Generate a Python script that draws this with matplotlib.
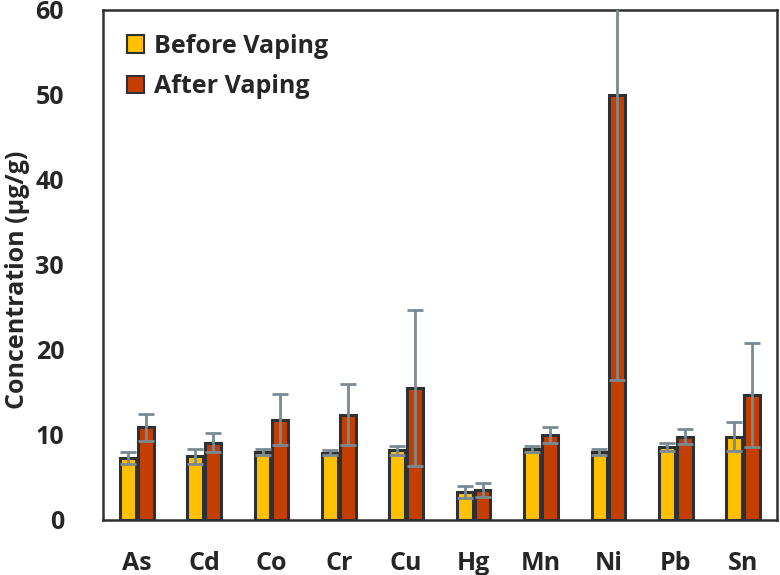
import matplotlib
matplotlib.use("Agg")
import matplotlib.pyplot as plt
import numpy as np
from matplotlib.patches import Patch

categories = ["As", "Cd", "Co", "Cr", "Cu", "Hg", "Mn", "Ni", "Pb", "Sn"]
before = [7.3, 7.5, 8.0, 7.9, 8.2, 3.3, 8.35, 8.0, 8.6, 9.8]
before_err = [0.7, 0.9, 0.3, 0.3, 0.5, 0.7, 0.3, 0.4, 0.45, 1.7]
after = [10.9, 9.1, 11.8, 12.4, 15.5, 3.5, 10.0, 50.0, 9.8, 14.7]
after_err = [1.6, 1.1, 3.0, 3.6, 9.2, 0.85, 0.9, 33.5, 0.85, 6.1]
series_names = ["Before Vaping", "After Vaping"]
yticks = [0, 10, 20, 30, 40, 50, 60]

plt.rcParams['font.family'] = ['Open Sans', 'DejaVu Sans']
plt.rcParams['font.weight'] = 'bold'

c_before = "#FFC000"
c_after = "#C43E00"
c_edge = "#2E3133"
c_err = "#7A8A92"
c_text = "#262626"

fig = plt.figure(figsize=(7.8, 5.75), dpi=100)
ax = fig.add_axes([0.132, 0.0957, 0.864, 0.887])

x = np.arange(len(categories))
w = 0.235
gap = 0.015
xb = x - w / 2 - gap
xa = x + w / 2 + gap

ax.bar(xb, before, width=w, color=c_before, edgecolor=c_edge, linewidth=2.2, zorder=2)
ax.bar(xa, after, width=w, color=c_after, edgecolor=c_edge, linewidth=2.2, zorder=2)
ax.errorbar(xb, before, yerr=before_err, fmt="none", ecolor=c_err, elinewidth=2.0,
            capsize=6, capthick=2.0, zorder=3)
ax.errorbar(xa, after, yerr=after_err, fmt="none", ecolor=c_err, elinewidth=2.0,
            capsize=6, capthick=2.0, zorder=3)

fs = 18
ax.set_xlim(-0.5, len(categories) - 0.5)
ax.set_ylim(0, 60)
ax.set_yticks(yticks)
ax.set_yticklabels([str(t) for t in yticks], fontsize=fs, fontweight='bold', color=c_text)
ax.set_xticks(x)
ax.set_xticklabels(categories, fontsize=fs, fontweight='bold', color=c_text)
ax.tick_params(axis='both', length=0)
ax.tick_params(axis='y', pad=28)
ax.tick_params(axis='x', pad=22)
ax.set_ylabel("Concentration (µg/g)", fontsize=fs, fontweight='bold', color=c_text)
ax.yaxis.set_label_coords(-0.108, 0.47)

for s in ax.spines.values():
    s.set_color(c_edge)
    s.set_linewidth(1.8)

handles = [Patch(facecolor=c_before, edgecolor=c_edge, linewidth=1.5),
           Patch(facecolor=c_after, edgecolor=c_edge, linewidth=1.5)]
leg = ax.legend(handles, series_names, loc="upper left", frameon=False,
                prop={'size': fs, 'weight': 'bold'}, handlelength=0.7, handleheight=0.7,
                handletextpad=0.4, labelspacing=0.62, borderaxespad=0.55,
                bbox_to_anchor=(0.0, 1.0))
for t in leg.get_texts():
    t.set_color(c_text)

fig.savefig("out.png", dpi=100)
